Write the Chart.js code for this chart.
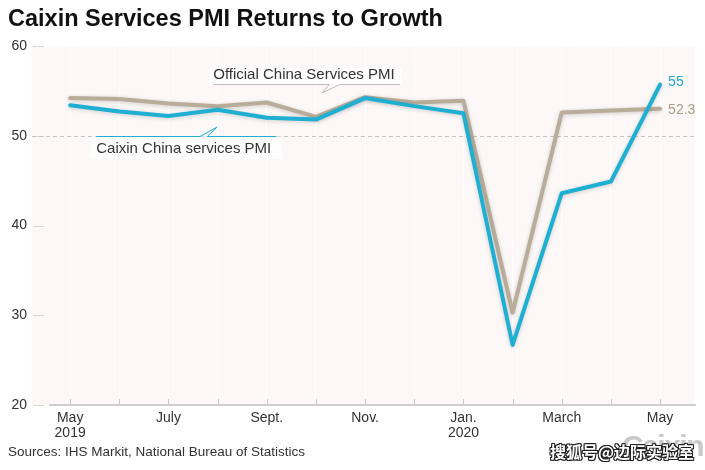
<!DOCTYPE html>
<html>
<head>
<meta charset="utf-8">
<script src="https://cdn.jsdelivr.net/npm/chart.js@4/dist/chart.umd.min.js"></script>
<style>
  body { margin: 0; background: #fff; }
  #wrap { position: relative; width: 705px; height: 470px; overflow: hidden; font-family: "Liberation Sans", Arial, sans-serif; }
  #chart { position: absolute; left: 0; top: 0; }
  .title { position: absolute; left: 8px; top: 7px; font-size: 23.5px; line-height: 23.5px; font-weight: bold; color: #111; white-space: nowrap; }
  .src { position: absolute; left: 8px; top: 445px; font-size: 13.5px; line-height: 13.5px; color: #333; white-space: nowrap; }
  .wm1 { position: absolute; left: 622px; top: 431px; font-size: 30px; line-height: 30px; font-weight: bold; color: #c9c9c9; letter-spacing: -1.5px; white-space: nowrap; }
  .wm2 { position: absolute; left: 550px; top: 443px; font-size: 16px; line-height: 17px; font-family: "Noto Sans CJK SC", sans-serif; font-weight: bold; color: #fff; white-space: nowrap;
         text-shadow: 1px 1px 0 #222, -1px -1px 0 #222, 1px -1px 0 #222, -1px 1px 0 #222, 0 1px 0 #222, 0 -1px 0 #222, 1px 0 0 #222, -1px 0 0 #222; }
</style>
</head>
<body>
<div id="wrap">
  <canvas id="chart" width="705" height="470"></canvas>
  <div class="title">Caixin Services PMI Returns to Growth</div>
  <div class="src">Sources: IHS Markit, National Bureau of Statistics</div>
  <div class="wm1">Caixin</div>
  <div class="wm2">搜狐号@边际实验室</div>
</div>
<script>
// months from May 2019 to May 2020
const months = ["May", "June", "July", "Aug.", "Sept.", "Oct.", "Nov.", "Dec.", "Jan.", "Feb.", "March", "April", "May"];
const yearLabels = { 0: "2019", 8: "2020" };
const caixinPMI = [53.4, 52.7, 52.2, 52.9, 52.0, 51.8, 54.2, 53.3, 52.5, 26.7, 43.6, 44.9, 55.7];
const officialPMI = [54.2, 54.1, 53.6, 53.3, 53.7, 52.1, 54.3, 53.7, 53.9, 30.3, 52.6, 52.8, 53.0];
const endLabels = ["55", "52.3"];
const yTicks = [20, 30, 40, 50, 60];

const TEAL = "#1eafd2";
const TAUPE = "#b9ac98";
const FONT = "'Liberation Sans', Arial, sans-serif";

const toPoints = arr => arr.map((v, i) => ({ x: i, y: v }));

const decorPlugin = {
  id: "decor",
  beforeDraw(chart) {
    const { ctx, chartArea: a } = chart;
    ctx.save();
    ctx.fillStyle = "#fbf8f7";
    ctx.fillRect(32, a.top, a.right - 32, a.bottom - a.top);
    ctx.restore();
  },
  beforeDatasetsDraw(chart) {
    const { ctx, chartArea: a, scales } = chart;
    const x = scales.x, y = scales.y;
    ctx.save();
    // y tick marks
    ctx.strokeStyle = "#d6d6d6";
    ctx.lineWidth = 1;
    yTicks.forEach(t => {
      const py = Math.round(y.getPixelForValue(t)) + 0.5;
      ctx.beginPath();
      ctx.moveTo(33, py);
      ctx.lineTo(44, py);
      ctx.stroke();
    });
    // dashed 50 line
    const p50 = Math.round(y.getPixelForValue(50)) + 0.5;
    ctx.strokeStyle = "#c4c4c4";
    ctx.setLineDash([4, 3]);
    ctx.beginPath();
    ctx.moveTo(32, p50);
    ctx.lineTo(a.right, p50);
    ctx.stroke();
    ctx.setLineDash([]);
    // x tick marks pointing up
    ctx.strokeStyle = "#c8c8c8";
    months.forEach((m, i) => {
      const px = Math.round(x.getPixelForValue(i)) + 0.5;
      ctx.beginPath();
      ctx.moveTo(px, a.bottom);
      ctx.lineTo(px, a.bottom - 6);
      ctx.stroke();
    });
    ctx.restore();
  },
  beforeDatasetDraw(chart) {
    const ctx = chart.ctx;
    ctx.save();
    ctx.shadowColor = "rgba(0,0,0,0.18)";
    ctx.shadowBlur = 4;
    ctx.shadowOffsetY = 1;
  },
  afterDatasetDraw(chart) {
    chart.ctx.restore();
  },
  afterDatasetsDraw(chart) {
    const { ctx, scales } = chart;
    const x = scales.x, y = scales.y;
    const px = v => x.getPixelForValue(v);
    const py = v => y.getPixelForValue(v);
    ctx.save();
    ctx.font = "15px " + FONT;
    ctx.textBaseline = "alphabetic";
    ctx.textAlign = "left";

    // Official label
    ctx.fillStyle = "rgba(255,255,255,0.85)";
    ctx.fillRect(px(2.82), py(57.6), px(6.75) - px(2.82), py(55.72) - py(57.6));
    ctx.fillStyle = "#333";
    ctx.fillText("Official China Services PMI", px(2.91), py(56.33));
    ctx.strokeStyle = "#bdbdbd";
    ctx.lineWidth = 1;
    const uy = Math.round(py(55.72)) + 0.5;
    ctx.beginPath();
    ctx.moveTo(px(2.91), uy);
    ctx.lineTo(px(5.27), uy);
    ctx.lineTo(px(5.125), py(54.78));
    ctx.lineTo(px(5.49), uy);
    ctx.lineTo(px(6.71), uy);
    ctx.stroke();

    // Caixin label
    ctx.fillStyle = "rgba(255,255,255,0.85)";
    ctx.fillRect(px(0.42), py(49.9), px(4.3) - px(0.42), py(47.4) - py(49.9));
    ctx.fillStyle = "#333";
    ctx.fillText("Caixin China services PMI", px(0.53), py(48.11));
    ctx.strokeStyle = TEAL;
    const cy = Math.round(py(50)) + 0.5;
    ctx.beginPath();
    ctx.moveTo(px(0.53), cy);
    ctx.lineTo(px(2.64), cy);
    ctx.lineTo(px(2.99), py(50.97));
    ctx.lineTo(px(2.79), cy);
    ctx.lineTo(px(4.19), cy);
    ctx.stroke();

    // end labels
    ctx.font = "14px " + FONT;
    ctx.textBaseline = "middle";
    const last = months.length - 1;
    ctx.fillStyle = "#22a8c8";
    ctx.fillText(endLabels[0], px(last) + 8, py(caixinPMI[last]) - 2);
    ctx.fillStyle = "#a99d8a";
    ctx.fillText(endLabels[1], px(last) + 8, py(officialPMI[last]) + 1);
    ctx.restore();
  }
};

new Chart(document.getElementById("chart"), {
  type: "line",
  data: {
    datasets: [
      {
        label: "Caixin China services PMI",
        data: toPoints(caixinPMI),
        borderColor: TEAL,
        borderWidth: 4,
        borderCapStyle: "round",
        borderJoinStyle: "round",
        pointRadius: 0,
        tension: 0
      },
      {
        label: "Official China Services PMI",
        data: toPoints(officialPMI),
        borderColor: TAUPE,
        borderWidth: 4,
        borderCapStyle: "round",
        borderJoinStyle: "round",
        pointRadius: 0,
        tension: 0
      }
    ]
  },
  options: {
    responsive: false,
    animation: false,
    layout: { padding: { top: 46, right: 10, left: 0, bottom: 0 } },
    plugins: {
      legend: { display: false },
      tooltip: { enabled: false }
    },
    scales: {
      x: {
        type: "linear",
        min: -0.41,
        max: 12.71,
        afterBuildTicks: scale => {
          scale.ticks = months.map((m, i) => ({ value: i }));
        },
        afterFit: scale => { scale.height = 65; },
        grid: { color: "#ffffff", lineWidth: 1, drawTicks: false },
        border: { display: true, color: "#cfcfcf", width: 2 },
        ticks: {
          autoSkip: false,
          maxRotation: 0,
          padding: 5,
          color: "#333",
          font: { family: FONT, size: 14, lineHeight: 1.1 },
          callback: value => {
            if (value % 2 !== 0) return "";
            return yearLabels[value] ? [months[value], yearLabels[value]] : months[value];
          }
        }
      },
      y: {
        min: 20,
        max: 60,
        afterFit: scale => { scale.width = 50; },
        grid: { drawOnChartArea: false, drawTicks: false },
        border: { display: false },
        ticks: {
          stepSize: 10,
          padding: 23,
          color: "#333",
          font: { family: FONT, size: 14 }
        }
      }
    }
  },
  plugins: [decorPlugin]
});
</script>
</body>
</html>
